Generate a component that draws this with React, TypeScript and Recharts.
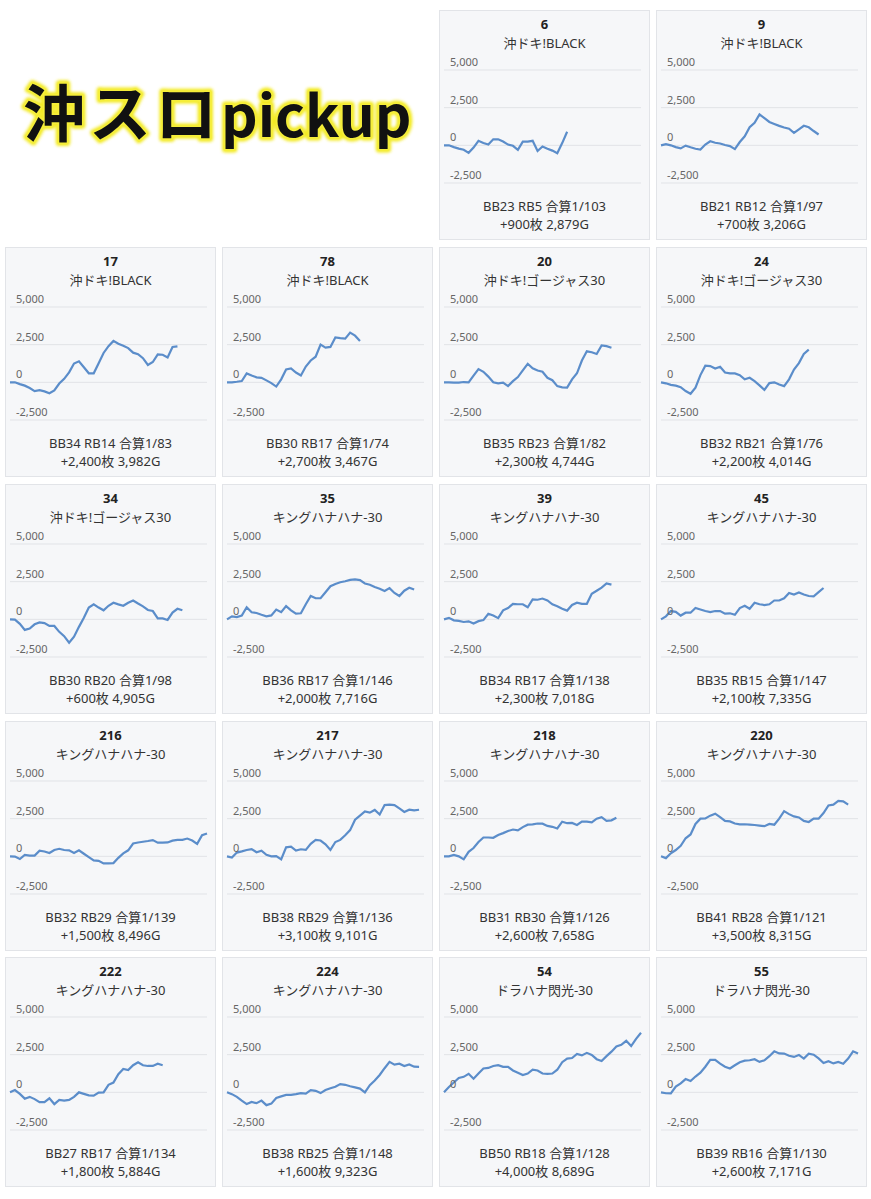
import React from "react";
import { LineChart, Line, XAxis, YAxis, CartesianGrid } from "recharts";

// ---- card labels ----
const machineNos = ["6", "9", "17", "78", "20", "24", "34", "35", "39", "45", "216", "217", "218", "220", "222", "224", "54", "55"];
const machineNames = [
  "沖ドキ!BLACK", "沖ドキ!BLACK", "沖ドキ!BLACK", "沖ドキ!BLACK",
  "沖ドキ!ゴージャス30", "沖ドキ!ゴージャス30", "沖ドキ!ゴージャス30",
  "キングハナハナ-30", "キングハナハナ-30", "キングハナハナ-30", "キングハナハナ-30",
  "キングハナハナ-30", "キングハナハナ-30", "キングハナハナ-30", "キングハナハナ-30", "キングハナハナ-30",
  "ドラハナ閃光-30", "ドラハナ閃光-30",
];
const bbCounts = [23, 21, 34, 30, 35, 32, 30, 36, 34, 35, 32, 38, 31, 41, 27, 38, 50, 39];
const rbCounts = [5, 12, 14, 17, 23, 21, 20, 17, 17, 15, 29, 29, 30, 28, 17, 25, 18, 16];
const combinedRates = [103, 97, 83, 74, 82, 76, 98, 146, 138, 147, 139, 136, 126, 121, 134, 148, 128, 130];
const medalDiffs = [900, 700, 2400, 2700, 2300, 2200, 600, 2000, 2300, 2100, 1500, 3100, 2600, 3500, 1800, 1600, 4000, 2600];
const gameCounts = [2879, 3206, 3982, 3467, 4744, 4014, 4905, 7716, 7018, 7335, 8496, 9101, 7658, 8315, 5884, 9323, 8689, 7171];

// ---- axis ----
const yTicks = [-2500, 0, 2500, 5000];
const timeSlots = 40; // full business day split into equal time slots

// ---- medal difference per time slot ----
const s6 = [0, 0, -120, -220, -290, -500, -150, 300, 150, 50, 400, 400, 250, 50, -30, -300, 250, 250, 300, -380, -80, -220, -350, -520, 150, 900];
const s9 = [0, 80, 0, -120, -200, -20, -130, -230, -280, 50, 270, 170, 120, 20, -50, -250, 220, 600, 1200, 1500, 2050, 1800, 1550, 1420, 1290, 1180, 1100, 830, 1060, 1300, 1200, 950, 720];
const s17 = [0, 0, -120, -220, -380, -580, -520, -600, -720, -540, -80, 230, 660, 1250, 1400, 1000, 600, 600, 1270, 1950, 2400, 2750, 2560, 2430, 2270, 1970, 1870, 1600, 1150, 1350, 1850, 1830, 1650, 2350, 2390];
const s78 = [0, 0, 40, 90, 590, 450, 330, 300, 130, -50, -280, 200, 850, 920, 650, 450, 1050, 1450, 1700, 2500, 2300, 2350, 2980, 2930, 2900, 3300, 3100, 2750];
const s20 = [0, 0, -20, -20, 20, 0, 450, 880, 700, 380, 0, -65, -20, -250, 80, 350, 800, 1230, 930, 780, 700, 300, 140, -250, -330, -350, 200, 600, 1450, 2060, 2000, 1880, 2450, 2400, 2300];
const s24 = [0, -65, -170, -220, -320, -580, -760, -350, 480, 1100, 1080, 920, 1030, 650, 590, 590, 480, 200, 300, 80, -200, -500, -50, 0, -150, -250, 200, 850, 1280, 1880, 2170];
const s34 = [0, -20, -300, -700, -610, -330, -210, -250, -440, -440, -830, -1120, -1550, -1150, -500, 100, 780, 1000, 780, 600, 900, 1100, 990, 900, 1100, 1250, 1050, 860, 620, 550, 60, 65, -40, 450, 700, 600];
const s35 = [0, 200, 150, 250, 800, 470, 420, 300, 200, 260, 650, 480, 880, 600, 380, 400, 1000, 1550, 1400, 1400, 1800, 2200, 2350, 2460, 2530, 2620, 2650, 2600, 2380, 2300, 2150, 2030, 1880, 2070, 1750, 1550, 1900, 2100, 1980];
const s39 = [0, 100, -65, -100, -175, -130, -280, -120, -50, 370, 250, 80, 600, 750, 1030, 1000, 1000, 800, 1320, 1300, 1380, 1250, 1000, 870, 700, 580, 950, 1100, 1030, 1030, 1700, 1900, 2100, 2380, 2300];
const s45 = [0, 200, 550, 500, 250, 440, 440, 750, 650, 550, 480, 550, 550, 380, 400, 300, 750, 900, 700, 1100, 1000, 950, 1000, 1250, 1250, 1400, 1750, 1650, 1780, 1650, 1550, 1530, 1800, 2080];
const s216 = [0, -20, -180, 100, 50, 50, 380, 320, 220, 420, 500, 420, 400, 220, 400, 170, -50, -270, -300, -470, -470, -450, -100, 200, 400, 850, 920, 970, 1020, 1080, 910, 910, 920, 1040, 1090, 1090, 1180, 1050, 830, 1400, 1520];
const s217 = [0, -80, 250, 330, 420, 480, 270, 370, 100, 0, 20, -200, 600, 650, 380, 470, 430, 830, 1090, 1050, 800, 430, 950, 1090, 1400, 1740, 2430, 2700, 2980, 2900, 3080, 2780, 3400, 3430, 3400, 3180, 2950, 3100, 3050, 3090];
const s218 = [0, 0, 100, 0, -200, 300, 550, 950, 1250, 1250, 1230, 1420, 1540, 1680, 1780, 1720, 1940, 2100, 2120, 2180, 2170, 2020, 1960, 1850, 2300, 2200, 2220, 2080, 2300, 2300, 2260, 2500, 2600, 2360, 2390, 2560];
const s220 = [0, -120, 200, 420, 700, 1200, 1450, 2150, 2500, 2520, 2700, 2830, 2600, 2350, 2320, 2180, 2120, 2130, 2110, 2080, 2040, 2000, 2150, 2100, 2500, 3000, 2800, 2650, 2580, 2350, 2280, 2500, 2500, 2870, 3380, 3430, 3680, 3650, 3430];
const s222 = [0, 150, -100, -420, -300, -450, -650, -650, -400, -780, -500, -550, -500, -300, 0, -100, -200, -220, -20, 0, 500, 650, 1200, 1550, 1480, 1800, 2000, 1800, 1750, 1750, 1900, 1800];
const s224 = [0, -120, -300, -550, -780, -640, -720, -550, -850, -750, -380, -270, -175, -170, -120, -50, -80, 150, 100, -50, 150, 270, 370, 550, 500, 400, 330, 250, 0, 480, 780, 1150, 1600, 2020, 1840, 1900, 1750, 1850, 1700, 1690];
const s54 = [0, 350, 650, 950, 1030, 1230, 900, 1250, 1580, 1620, 1750, 1800, 1690, 1690, 1450, 1300, 1150, 1250, 1500, 1450, 1250, 1230, 1250, 1500, 2000, 2240, 2280, 2550, 2450, 2620, 2480, 2200, 2080, 2400, 2700, 3050, 3150, 3420, 3070, 3550, 3950];
const s55 = [0, -60, -70, 380, 600, 880, 750, 1050, 1300, 1700, 2150, 2150, 1900, 1700, 1580, 1800, 2000, 2100, 2130, 2200, 2020, 2130, 2400, 2720, 2580, 2570, 2430, 2350, 2480, 2240, 2570, 2500, 2250, 1950, 2070, 1920, 2020, 1900, 2240, 2720, 2570];

const seriesList = [s6, s9, s17, s78, s20, s24, s34, s35, s39, s45, s216, s217, s218, s220, s222, s224, s54, s55];

// ---- layout ----
const FONT = '"Noto Sans", "Noto Sans CJK JP", sans-serif';
const TITLE_FONT = '"Noto Sans CJK JP", "Noto Sans", sans-serif';
const CARD_W = 211;
const CARD_H = 230;
const colLefts = [5, 222, 439, 656];
const rowTops = [10, 247, 484, 721, 957];
const LINE_COLOR = "#5b8dca";

const fmt = (n: number) => n.toLocaleString("en-US");

const YTick = (props: any) => {
  const { y, payload } = props;
  return (
    <text x={11} y={y - 8} dy="0.35em" fontSize={11} fill="#666" textAnchor="start" fontFamily={FONT}>
      {fmt(payload.value)}
    </text>
  );
};

function Card({ idx, left, top }: { idx: number; left: number; top: number }) {
  const data = seriesList[idx].map((v, i) => ({ t: i, v }));
  const diff = medalDiffs[idx];
  return (
    <div
      style={{
        position: "absolute",
        left,
        top,
        width: CARD_W,
        height: CARD_H,
        background: "#f6f7f9",
        boxShadow: "inset 0 0 0 1px #e2e4e8",
        fontFamily: FONT,
        color: "#333",
      }}
    >
      <div style={{ position: "absolute", top: 0, left: 0 }}>
        <LineChart width={CARD_W} height={190} data={data} margin={{ top: 60, right: 9, bottom: 17, left: 5 }}>
          <CartesianGrid vertical={false} stroke="#e1e3e7" />
          <XAxis dataKey="t" type="number" domain={[0, timeSlots]} hide />
          <YAxis
            type="number"
            domain={[-2500, 5000]}
            ticks={yTicks}
            width={40}
            mirror
            axisLine={false}
            tickLine={false}
            tick={YTick}
            interval={0}
          />
          <Line type="linear" dataKey="v" stroke={LINE_COLOR} strokeWidth={2.2} dot={false} isAnimationActive={false} />
        </LineChart>
      </div>
      <div style={{ position: "absolute", top: 5, left: 0, width: CARD_W, textAlign: "center", fontSize: 13, lineHeight: "18px", fontWeight: 700, color: "#222" }}>
        {machineNos[idx]}
      </div>
      <div style={{ position: "absolute", top: 24, left: 0, width: CARD_W, textAlign: "center", fontSize: 13, lineHeight: "18px" }}>
        {machineNames[idx]}
      </div>
      <div style={{ position: "absolute", top: 187, left: 0, width: CARD_W, textAlign: "center", fontSize: 13, lineHeight: "18px" }}>
        {`BB${bbCounts[idx]} RB${rbCounts[idx]} 合算1/${combinedRates[idx]}`}
      </div>
      <div style={{ position: "absolute", top: 205, left: 0, width: CARD_W, textAlign: "center", fontSize: 13, lineHeight: "18px" }}>
        {`${diff >= 0 ? "+" : ""}${fmt(diff)}枚 ${fmt(gameCounts[idx])}G`}
      </div>
    </div>
  );
}

export default function App() {
  const cards: React.ReactNode[] = [];
  machineNos.forEach((_, idx) => {
    const slot = idx + 2; // first two grid slots hold the title
    const row = Math.floor(slot / 4);
    const col = slot % 4;
    cards.push(<Card key={idx} idx={idx} left={colLefts[col]} top={rowTops[row]} />);
  });
  const titleParts = (
    <>
      <tspan fontSize={62} letterSpacing={4}>沖スロ</tspan>
      <tspan fontSize={57} letterSpacing={0}>pickup</tspan>
    </>
  );
  return (
    <div style={{ position: "absolute", left: 0, top: 0, width: 871, height: 1199, background: "#fff", overflow: "hidden" }}>
      <svg width={440} height={240} style={{ position: "absolute", left: 0, top: 0 }}>
        <defs>
          <filter id="glow" x="-10%" y="-30%" width="120%" height="160%">
            <feGaussianBlur stdDeviation="1.5" />
          </filter>
        </defs>
        <text x={23} y={137} fontWeight={700} fontFamily={TITLE_FONT}
          fill="#f3ea22" stroke="#f3ea22" strokeWidth={7} strokeLinejoin="round" filter="url(#glow)">
          {titleParts}
        </text>
        <text x={23} y={137} fontWeight={700} fontFamily={TITLE_FONT}
          fill="#111" stroke="#f5ee3a" strokeWidth={3.5} strokeLinejoin="round" paintOrder="stroke">
          {titleParts}
        </text>
      </svg>
      {cards}
    </div>
  );
}
